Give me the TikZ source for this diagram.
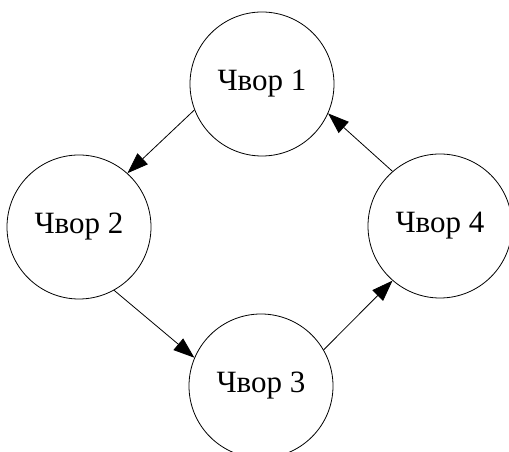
\documentclass[tikz,border=0pt]{standalone}
\usepackage{fontspec}
\setmainfont{Liberation Serif}
\usetikzlibrary{arrows.meta}

\begin{document}
\begin{tikzpicture}[x=1pt,y=1pt,
    vertex/.style={draw,circle,line width=0.8pt,minimum size=144pt,inner sep=0pt,
      font=\fontsize{31}{37}\selectfont},
    edge/.style={line width=0.8pt,-{Triangle[length=21pt,width=15pt]}}]
  \useasboundingbox (0,0) rectangle (509,452);

  \node[vertex] (v1) at (262,368) {Чвор 1};
  \node[vertex] (v2) at (79,225) {Чвор 2};
  \node[vertex] (v3) at (261,66) {Чвор 3};
  \node[vertex] (v4) at (440,226) {Чвор 4};

  \draw[edge] (v1.201) -- (v2.48);
  \draw[edge] (v2.-61) -- (v3.157);
  \draw[edge] (v3.30) -- (v4.-131);
  \draw[edge] (v4.131) -- (v1.-24);
\end{tikzpicture}
\end{document}
